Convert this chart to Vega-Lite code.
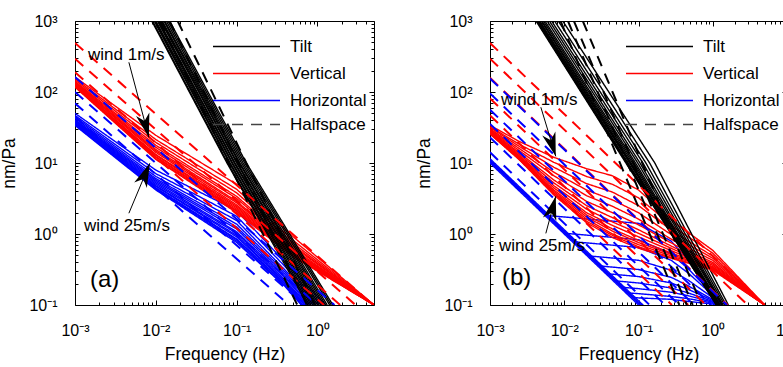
{
"$schema":"https://vega.github.io/schema/vega-lite/v6.json",
"padding":{"left":0,"top":12,"right":0,"bottom":0},
"config":{"font":"Liberation Sans","view":{"stroke":"#000","strokeWidth":1},
"axis":{"domain":false,"grid":false,"tickColor":"#000","labelColor":"#000","titleColor":"#000","labelFont":"Liberation Sans","titleFont":"Liberation Sans","titleFontWeight":"normal","labelFlush":false,"labelOverlap":false,"tickWidth":1}},
"datasets":{
"a":[
{"id":"Ha0","c":"Horizontal","m":"Coupled","f":0.001,"v":33.88},{"id":"Ha0","c":"Horizontal","m":"Coupled","f":0.01,"v":4.169},{"id":"Ha0","c":"Horizontal","m":"Coupled","f":0.1,"v":0.7586},{"id":"Ha0","c":"Horizontal","m":"Coupled","f":0.3981,"v":0.182},{"id":"Ha0","c":"Horizontal","m":"Coupled","f":0.631,"v":0.1},
{"id":"Ha1","c":"Horizontal","m":"Coupled","f":0.001,"v":34.67},{"id":"Ha1","c":"Horizontal","m":"Coupled","f":0.01,"v":4.266},{"id":"Ha1","c":"Horizontal","m":"Coupled","f":0.1,"v":0.7943},{"id":"Ha1","c":"Horizontal","m":"Coupled","f":0.3981,"v":0.1862},{"id":"Ha1","c":"Horizontal","m":"Coupled","f":0.6457,"v":0.1},
{"id":"Ha2","c":"Horizontal","m":"Coupled","f":0.001,"v":34.67},{"id":"Ha2","c":"Horizontal","m":"Coupled","f":0.01,"v":4.365},{"id":"Ha2","c":"Horizontal","m":"Coupled","f":0.1,"v":0.8318},{"id":"Ha2","c":"Horizontal","m":"Coupled","f":0.3981,"v":0.195},{"id":"Ha2","c":"Horizontal","m":"Coupled","f":0.6607,"v":0.1},
{"id":"Ha3","c":"Horizontal","m":"Coupled","f":0.001,"v":35.48},{"id":"Ha3","c":"Horizontal","m":"Coupled","f":0.01,"v":4.467},{"id":"Ha3","c":"Horizontal","m":"Coupled","f":0.1,"v":0.8511},{"id":"Ha3","c":"Horizontal","m":"Coupled","f":0.3981,"v":0.1995},{"id":"Ha3","c":"Horizontal","m":"Coupled","f":0.6918,"v":0.1},
{"id":"Ha4","c":"Horizontal","m":"Coupled","f":0.001,"v":36.31},{"id":"Ha4","c":"Horizontal","m":"Coupled","f":0.01,"v":4.677},{"id":"Ha4","c":"Horizontal","m":"Coupled","f":0.1,"v":0.912},{"id":"Ha4","c":"Horizontal","m":"Coupled","f":0.3981,"v":0.2089},{"id":"Ha4","c":"Horizontal","m":"Coupled","f":0.7079,"v":0.1},
{"id":"Ha5","c":"Horizontal","m":"Coupled","f":0.001,"v":37.15},{"id":"Ha5","c":"Horizontal","m":"Coupled","f":0.01,"v":4.786},{"id":"Ha5","c":"Horizontal","m":"Coupled","f":0.1,"v":0.955},{"id":"Ha5","c":"Horizontal","m":"Coupled","f":0.3981,"v":0.2138},{"id":"Ha5","c":"Horizontal","m":"Coupled","f":0.7413,"v":0.1},
{"id":"Ha6","c":"Horizontal","m":"Coupled","f":0.001,"v":38.02},{"id":"Ha6","c":"Horizontal","m":"Coupled","f":0.01,"v":5.012},{"id":"Ha6","c":"Horizontal","m":"Coupled","f":0.1,"v":1.023},{"id":"Ha6","c":"Horizontal","m":"Coupled","f":0.3981,"v":0.2239},{"id":"Ha6","c":"Horizontal","m":"Coupled","f":0.7586,"v":0.1},
{"id":"Ha7","c":"Horizontal","m":"Coupled","f":0.001,"v":38.9},{"id":"Ha7","c":"Horizontal","m":"Coupled","f":0.01,"v":5.248},{"id":"Ha7","c":"Horizontal","m":"Coupled","f":0.1,"v":1.072},{"id":"Ha7","c":"Horizontal","m":"Coupled","f":0.3981,"v":0.2399},{"id":"Ha7","c":"Horizontal","m":"Coupled","f":0.7943,"v":0.1},
{"id":"Ha8","c":"Horizontal","m":"Coupled","f":0.001,"v":39.81},{"id":"Ha8","c":"Horizontal","m":"Coupled","f":0.01,"v":5.495},{"id":"Ha8","c":"Horizontal","m":"Coupled","f":0.1,"v":1.175},{"id":"Ha8","c":"Horizontal","m":"Coupled","f":0.3981,"v":0.2512},{"id":"Ha8","c":"Horizontal","m":"Coupled","f":0.8318,"v":0.1},
{"id":"Ha9","c":"Horizontal","m":"Coupled","f":0.001,"v":40.74},{"id":"Ha9","c":"Horizontal","m":"Coupled","f":0.01,"v":5.754},{"id":"Ha9","c":"Horizontal","m":"Coupled","f":0.1,"v":1.259},{"id":"Ha9","c":"Horizontal","m":"Coupled","f":0.3981,"v":0.2692},{"id":"Ha9","c":"Horizontal","m":"Coupled","f":0.8913,"v":0.1},
{"id":"Ha10","c":"Horizontal","m":"Coupled","f":0.001,"v":42.66},{"id":"Ha10","c":"Horizontal","m":"Coupled","f":0.01,"v":6.026},{"id":"Ha10","c":"Horizontal","m":"Coupled","f":0.1,"v":1.38},{"id":"Ha10","c":"Horizontal","m":"Coupled","f":0.3981,"v":0.2884},{"id":"Ha10","c":"Horizontal","m":"Coupled","f":0.9333,"v":0.1},
{"id":"Ha11","c":"Horizontal","m":"Coupled","f":0.001,"v":44.67},{"id":"Ha11","c":"Horizontal","m":"Coupled","f":0.01,"v":6.457},{"id":"Ha11","c":"Horizontal","m":"Coupled","f":0.1,"v":1.549},{"id":"Ha11","c":"Horizontal","m":"Coupled","f":0.3981,"v":0.309},{"id":"Ha11","c":"Horizontal","m":"Coupled","f":1.023,"v":0.1},
{"id":"Ha12","c":"Horizontal","m":"Coupled","f":0.001,"v":46.77},{"id":"Ha12","c":"Horizontal","m":"Coupled","f":0.01,"v":7.079},{"id":"Ha12","c":"Horizontal","m":"Coupled","f":0.1,"v":1.778},{"id":"Ha12","c":"Horizontal","m":"Coupled","f":0.3981,"v":0.3467},{"id":"Ha12","c":"Horizontal","m":"Coupled","f":1.122,"v":0.1},
{"id":"Ha13","c":"Horizontal","m":"Coupled","f":0.001,"v":50.12},{"id":"Ha13","c":"Horizontal","m":"Coupled","f":0.01,"v":7.943},{"id":"Ha13","c":"Horizontal","m":"Coupled","f":0.1,"v":2.138},{"id":"Ha13","c":"Horizontal","m":"Coupled","f":0.3981,"v":0.3981},{"id":"Ha13","c":"Horizontal","m":"Coupled","f":1.259,"v":0.1},
{"id":"Va0","c":"Vertical","m":"Coupled","f":0.001,"v":117.5},{"id":"Va0","c":"Vertical","m":"Coupled","f":0.01,"v":11.22},{"id":"Va0","c":"Vertical","m":"Coupled","f":0.1,"v":1.995},{"id":"Va0","c":"Vertical","m":"Coupled","f":0.5012,"v":0.4786},{"id":"Va0","c":"Vertical","m":"Coupled","f":5.012,"v":0.1},
{"id":"Va1","c":"Vertical","m":"Coupled","f":0.001,"v":120.2},{"id":"Va1","c":"Vertical","m":"Coupled","f":0.01,"v":11.48},{"id":"Va1","c":"Vertical","m":"Coupled","f":0.1,"v":2.089},{"id":"Va1","c":"Vertical","m":"Coupled","f":0.5012,"v":0.4898},{"id":"Va1","c":"Vertical","m":"Coupled","f":5.012,"v":0.1},
{"id":"Va2","c":"Vertical","m":"Coupled","f":0.001,"v":120.2},{"id":"Va2","c":"Vertical","m":"Coupled","f":0.01,"v":12.02},{"id":"Va2","c":"Vertical","m":"Coupled","f":0.1,"v":2.138},{"id":"Va2","c":"Vertical","m":"Coupled","f":0.5012,"v":0.5012},{"id":"Va2","c":"Vertical","m":"Coupled","f":5.012,"v":0.1},
{"id":"Va3","c":"Vertical","m":"Coupled","f":0.001,"v":123.0},{"id":"Va3","c":"Vertical","m":"Coupled","f":0.01,"v":12.3},{"id":"Va3","c":"Vertical","m":"Coupled","f":0.1,"v":2.239},{"id":"Va3","c":"Vertical","m":"Coupled","f":0.5012,"v":0.5129},{"id":"Va3","c":"Vertical","m":"Coupled","f":5.012,"v":0.1},
{"id":"Va4","c":"Vertical","m":"Coupled","f":0.001,"v":123.0},{"id":"Va4","c":"Vertical","m":"Coupled","f":0.01,"v":12.88},{"id":"Va4","c":"Vertical","m":"Coupled","f":0.1,"v":2.344},{"id":"Va4","c":"Vertical","m":"Coupled","f":0.5012,"v":0.537},{"id":"Va4","c":"Vertical","m":"Coupled","f":5.012,"v":0.1},
{"id":"Va5","c":"Vertical","m":"Coupled","f":0.001,"v":125.9},{"id":"Va5","c":"Vertical","m":"Coupled","f":0.01,"v":13.18},{"id":"Va5","c":"Vertical","m":"Coupled","f":0.1,"v":2.455},{"id":"Va5","c":"Vertical","m":"Coupled","f":0.5012,"v":0.5495},{"id":"Va5","c":"Vertical","m":"Coupled","f":5.012,"v":0.1},
{"id":"Va6","c":"Vertical","m":"Coupled","f":0.001,"v":128.8},{"id":"Va6","c":"Vertical","m":"Coupled","f":0.01,"v":14.13},{"id":"Va6","c":"Vertical","m":"Coupled","f":0.1,"v":2.57},{"id":"Va6","c":"Vertical","m":"Coupled","f":0.5012,"v":0.5754},{"id":"Va6","c":"Vertical","m":"Coupled","f":5.012,"v":0.1},
{"id":"Va7","c":"Vertical","m":"Coupled","f":0.001,"v":131.8},{"id":"Va7","c":"Vertical","m":"Coupled","f":0.01,"v":14.79},{"id":"Va7","c":"Vertical","m":"Coupled","f":0.1,"v":2.754},{"id":"Va7","c":"Vertical","m":"Coupled","f":0.5012,"v":0.5888},{"id":"Va7","c":"Vertical","m":"Coupled","f":5.012,"v":0.1},
{"id":"Va8","c":"Vertical","m":"Coupled","f":0.001,"v":134.9},{"id":"Va8","c":"Vertical","m":"Coupled","f":0.01,"v":15.49},{"id":"Va8","c":"Vertical","m":"Coupled","f":0.1,"v":2.884},{"id":"Va8","c":"Vertical","m":"Coupled","f":0.5012,"v":0.6166},{"id":"Va8","c":"Vertical","m":"Coupled","f":5.012,"v":0.1},
{"id":"Va9","c":"Vertical","m":"Coupled","f":0.001,"v":138.0},{"id":"Va9","c":"Vertical","m":"Coupled","f":0.01,"v":16.6},{"id":"Va9","c":"Vertical","m":"Coupled","f":0.1,"v":3.162},{"id":"Va9","c":"Vertical","m":"Coupled","f":0.5012,"v":0.6607},{"id":"Va9","c":"Vertical","m":"Coupled","f":5.012,"v":0.1},
{"id":"Va10","c":"Vertical","m":"Coupled","f":0.001,"v":141.3},{"id":"Va10","c":"Vertical","m":"Coupled","f":0.01,"v":17.78},{"id":"Va10","c":"Vertical","m":"Coupled","f":0.1,"v":3.388},{"id":"Va10","c":"Vertical","m":"Coupled","f":0.5012,"v":0.6918},{"id":"Va10","c":"Vertical","m":"Coupled","f":5.012,"v":0.1},
{"id":"Va11","c":"Vertical","m":"Coupled","f":0.001,"v":147.9},{"id":"Va11","c":"Vertical","m":"Coupled","f":0.01,"v":19.5},{"id":"Va11","c":"Vertical","m":"Coupled","f":0.1,"v":3.802},{"id":"Va11","c":"Vertical","m":"Coupled","f":0.5012,"v":0.7413},{"id":"Va11","c":"Vertical","m":"Coupled","f":5.012,"v":0.1},
{"id":"Va12","c":"Vertical","m":"Coupled","f":0.001,"v":154.9},{"id":"Va12","c":"Vertical","m":"Coupled","f":0.01,"v":21.38},{"id":"Va12","c":"Vertical","m":"Coupled","f":0.1,"v":4.266},{"id":"Va12","c":"Vertical","m":"Coupled","f":0.5012,"v":0.8128},{"id":"Va12","c":"Vertical","m":"Coupled","f":5.012,"v":0.1},
{"id":"Va13","c":"Vertical","m":"Coupled","f":0.001,"v":162.2},{"id":"Va13","c":"Vertical","m":"Coupled","f":0.01,"v":24.55},{"id":"Va13","c":"Vertical","m":"Coupled","f":0.1,"v":5.012},{"id":"Va13","c":"Vertical","m":"Coupled","f":0.5012,"v":0.912},{"id":"Va13","c":"Vertical","m":"Coupled","f":5.012,"v":0.1},
{"id":"Ta0","c":"Tilt","m":"Coupled","f":0.008913,"v":1000},{"id":"Ta0","c":"Tilt","m":"Coupled","f":0.07586,"v":10},{"id":"Ta0","c":"Tilt","m":"Coupled","f":0.7586,"v":0.1},
{"id":"Ta1","c":"Tilt","m":"Coupled","f":0.00912,"v":1000},{"id":"Ta1","c":"Tilt","m":"Coupled","f":0.07762,"v":10},{"id":"Ta1","c":"Tilt","m":"Coupled","f":0.7943,"v":0.1},
{"id":"Ta2","c":"Tilt","m":"Coupled","f":0.00955,"v":1000},{"id":"Ta2","c":"Tilt","m":"Coupled","f":0.08128,"v":10},{"id":"Ta2","c":"Tilt","m":"Coupled","f":0.8318,"v":0.1},
{"id":"Ta3","c":"Tilt","m":"Coupled","f":0.00977,"v":1000},{"id":"Ta3","c":"Tilt","m":"Coupled","f":0.08318,"v":10},{"id":"Ta3","c":"Tilt","m":"Coupled","f":0.871,"v":0.1},
{"id":"Ta4","c":"Tilt","m":"Coupled","f":0.01,"v":1000},{"id":"Ta4","c":"Tilt","m":"Coupled","f":0.0871,"v":10},{"id":"Ta4","c":"Tilt","m":"Coupled","f":0.912,"v":0.1},
{"id":"Ta5","c":"Tilt","m":"Coupled","f":0.01047,"v":1000},{"id":"Ta5","c":"Tilt","m":"Coupled","f":0.08913,"v":10},{"id":"Ta5","c":"Tilt","m":"Coupled","f":0.955,"v":0.1},
{"id":"Ta6","c":"Tilt","m":"Coupled","f":0.01072,"v":1000},{"id":"Ta6","c":"Tilt","m":"Coupled","f":0.09333,"v":10},{"id":"Ta6","c":"Tilt","m":"Coupled","f":1.0,"v":0.1},
{"id":"Ta7","c":"Tilt","m":"Coupled","f":0.01096,"v":1000},{"id":"Ta7","c":"Tilt","m":"Coupled","f":0.0955,"v":10},{"id":"Ta7","c":"Tilt","m":"Coupled","f":1.047,"v":0.1},
{"id":"Ta8","c":"Tilt","m":"Coupled","f":0.01148,"v":1000},{"id":"Ta8","c":"Tilt","m":"Coupled","f":0.1,"v":10},{"id":"Ta8","c":"Tilt","m":"Coupled","f":1.096,"v":0.1},
{"id":"Ta9","c":"Tilt","m":"Coupled","f":0.01175,"v":1000},{"id":"Ta9","c":"Tilt","m":"Coupled","f":0.1023,"v":10},{"id":"Ta9","c":"Tilt","m":"Coupled","f":1.148,"v":0.1},
{"id":"Ta10","c":"Tilt","m":"Coupled","f":0.01202,"v":1000},{"id":"Ta10","c":"Tilt","m":"Coupled","f":0.1072,"v":10},{"id":"Ta10","c":"Tilt","m":"Coupled","f":1.202,"v":0.1},
{"id":"Ta11","c":"Tilt","m":"Coupled","f":0.01259,"v":1000},{"id":"Ta11","c":"Tilt","m":"Coupled","f":0.1096,"v":10},{"id":"Ta11","c":"Tilt","m":"Coupled","f":1.259,"v":0.1},
{"id":"Ta12","c":"Tilt","m":"Coupled","f":0.01288,"v":1000},{"id":"Ta12","c":"Tilt","m":"Coupled","f":0.1148,"v":10},{"id":"Ta12","c":"Tilt","m":"Coupled","f":1.318,"v":0.1},
{"id":"Ta13","c":"Tilt","m":"Coupled","f":0.01349,"v":1000},{"id":"Ta13","c":"Tilt","m":"Coupled","f":0.1202,"v":10},{"id":"Ta13","c":"Tilt","m":"Coupled","f":1.413,"v":0.1},
{"id":"Ta14","c":"Tilt","m":"Coupled","f":0.01413,"v":1000},{"id":"Ta14","c":"Tilt","m":"Coupled","f":0.1259,"v":10},{"id":"Ta14","c":"Tilt","m":"Coupled","f":1.479,"v":0.1},
{"id":"Ta15","c":"Tilt","m":"Coupled","f":0.01479,"v":1000},{"id":"Ta15","c":"Tilt","m":"Coupled","f":0.1318,"v":10},{"id":"Ta15","c":"Tilt","m":"Coupled","f":1.549,"v":0.1},
{"id":"VHa0","c":"Vertical","m":"Halfspace","f":0.001,"v":489.8},{"id":"VHa0","c":"Vertical","m":"Halfspace","f":4.898,"v":0.1},
{"id":"VHa1","c":"Vertical","m":"Halfspace","f":0.001,"v":295.1},{"id":"VHa1","c":"Vertical","m":"Halfspace","f":2.951,"v":0.1},
{"id":"VHa2","c":"Vertical","m":"Halfspace","f":0.001,"v":190.5},{"id":"VHa2","c":"Vertical","m":"Halfspace","f":1.905,"v":0.1},
{"id":"VHa3","c":"Vertical","m":"Halfspace","f":0.001,"v":120.2},{"id":"VHa3","c":"Vertical","m":"Halfspace","f":1.202,"v":0.1},
{"id":"HHa0","c":"Horizontal","m":"Halfspace","f":0.001,"v":162.2},{"id":"HHa0","c":"Horizontal","m":"Halfspace","f":1.622,"v":0.1},
{"id":"HHa1","c":"Horizontal","m":"Halfspace","f":0.001,"v":100},{"id":"HHa1","c":"Horizontal","m":"Halfspace","f":1.0,"v":0.1},
{"id":"HHa2","c":"Horizontal","m":"Halfspace","f":0.001,"v":69.18},{"id":"HHa2","c":"Horizontal","m":"Halfspace","f":0.6918,"v":0.1},
{"id":"HHa3","c":"Horizontal","m":"Halfspace","f":0.001,"v":44.67},{"id":"HHa3","c":"Horizontal","m":"Halfspace","f":0.4467,"v":0.1},
{"id":"THa0","c":"Tilt","m":"Halfspace","f":0.01122,"v":1000},{"id":"THa0","c":"Tilt","m":"Halfspace","f":0.5623,"v":0.1},
{"id":"THa1","c":"Tilt","m":"Halfspace","f":0.01479,"v":1000},{"id":"THa1","c":"Tilt","m":"Halfspace","f":0.7413,"v":0.1},
{"id":"THa2","c":"Tilt","m":"Halfspace","f":0.01862,"v":1000},{"id":"THa2","c":"Tilt","m":"Halfspace","f":0.9333,"v":0.1}
],
"b":[
{"id":"Hb0","c":"Horizontal","m":"Coupled","f":0.001,"v":10.0},{"id":"Hb0","c":"Horizontal","m":"Coupled","f":0.1122,"v":0.08913},
{"id":"Hb1","c":"Horizontal","m":"Coupled","f":0.001,"v":10.47},{"id":"Hb1","c":"Horizontal","m":"Coupled","f":0.1175,"v":0.08913},
{"id":"Hb2","c":"Horizontal","m":"Coupled","f":0.001,"v":10.96},{"id":"Hb2","c":"Horizontal","m":"Coupled","f":0.123,"v":0.08913},
{"id":"Hb3","c":"Horizontal","m":"Coupled","f":0.001,"v":11.48},{"id":"Hb3","c":"Horizontal","m":"Coupled","f":0.1288,"v":0.08913},
{"id":"Hb4","c":"Horizontal","m":"Coupled","f":0.001,"v":10.72},{"id":"Hb4","c":"Horizontal","m":"Coupled","f":0.005888,"v":1.82},{"id":"Hb4","c":"Horizontal","m":"Coupled","f":0.1,"v":1.413},{"id":"Hb4","c":"Horizontal","m":"Coupled","f":0.2754,"v":0.7943},{"id":"Hb4","c":"Horizontal","m":"Coupled","f":0.4677,"v":0.4266},{"id":"Hb4","c":"Horizontal","m":"Coupled","f":1.072,"v":0.1413},{"id":"Hb4","c":"Horizontal","m":"Coupled","f":1.318,"v":0.1},
{"id":"Hb5","c":"Horizontal","m":"Coupled","f":0.001,"v":10.72},{"id":"Hb5","c":"Horizontal","m":"Coupled","f":0.01047,"v":1.023},{"id":"Hb5","c":"Horizontal","m":"Coupled","f":0.1,"v":0.8318},{"id":"Hb5","c":"Horizontal","m":"Coupled","f":0.2754,"v":0.5248},{"id":"Hb5","c":"Horizontal","m":"Coupled","f":0.4677,"v":0.3236},{"id":"Hb5","c":"Horizontal","m":"Coupled","f":1.072,"v":0.1318},{"id":"Hb5","c":"Horizontal","m":"Coupled","f":1.318,"v":0.1},
{"id":"Hb6","c":"Horizontal","m":"Coupled","f":0.001,"v":10.72},{"id":"Hb6","c":"Horizontal","m":"Coupled","f":0.0138,"v":0.7762},{"id":"Hb6","c":"Horizontal","m":"Coupled","f":0.1,"v":0.6457},{"id":"Hb6","c":"Horizontal","m":"Coupled","f":0.2754,"v":0.4266},{"id":"Hb6","c":"Horizontal","m":"Coupled","f":0.4677,"v":0.2818},{"id":"Hb6","c":"Horizontal","m":"Coupled","f":1.072,"v":0.1288},{"id":"Hb6","c":"Horizontal","m":"Coupled","f":1.318,"v":0.1},
{"id":"Hb7","c":"Horizontal","m":"Coupled","f":0.001,"v":10.72},{"id":"Hb7","c":"Horizontal","m":"Coupled","f":0.02188,"v":0.4898},{"id":"Hb7","c":"Horizontal","m":"Coupled","f":0.1,"v":0.4266},{"id":"Hb7","c":"Horizontal","m":"Coupled","f":0.2754,"v":0.309},{"id":"Hb7","c":"Horizontal","m":"Coupled","f":0.4677,"v":0.2239},{"id":"Hb7","c":"Horizontal","m":"Coupled","f":1.072,"v":0.1202},{"id":"Hb7","c":"Horizontal","m":"Coupled","f":1.318,"v":0.1},
{"id":"Hb8","c":"Horizontal","m":"Coupled","f":0.001,"v":10.72},{"id":"Hb8","c":"Horizontal","m":"Coupled","f":0.0302,"v":0.3548},{"id":"Hb8","c":"Horizontal","m":"Coupled","f":0.1,"v":0.3162},{"id":"Hb8","c":"Horizontal","m":"Coupled","f":0.2754,"v":0.2455},{"id":"Hb8","c":"Horizontal","m":"Coupled","f":0.4677,"v":0.1862},{"id":"Hb8","c":"Horizontal","m":"Coupled","f":1.072,"v":0.1148},{"id":"Hb8","c":"Horizontal","m":"Coupled","f":1.318,"v":0.1},
{"id":"Hb9","c":"Horizontal","m":"Coupled","f":0.001,"v":10.72},{"id":"Hb9","c":"Horizontal","m":"Coupled","f":0.0389,"v":0.2754},{"id":"Hb9","c":"Horizontal","m":"Coupled","f":0.1,"v":0.2512},{"id":"Hb9","c":"Horizontal","m":"Coupled","f":0.2754,"v":0.2042},{"id":"Hb9","c":"Horizontal","m":"Coupled","f":0.4677,"v":0.166},{"id":"Hb9","c":"Horizontal","m":"Coupled","f":1.072,"v":0.1122},{"id":"Hb9","c":"Horizontal","m":"Coupled","f":1.318,"v":0.1},
{"id":"Hb10","c":"Horizontal","m":"Coupled","f":0.001,"v":10.72},{"id":"Hb10","c":"Horizontal","m":"Coupled","f":0.04898,"v":0.2188},{"id":"Hb10","c":"Horizontal","m":"Coupled","f":0.1,"v":0.2042},{"id":"Hb10","c":"Horizontal","m":"Coupled","f":0.2754,"v":0.1738},{"id":"Hb10","c":"Horizontal","m":"Coupled","f":0.4677,"v":0.1479},{"id":"Hb10","c":"Horizontal","m":"Coupled","f":1.072,"v":0.1096},{"id":"Hb10","c":"Horizontal","m":"Coupled","f":1.318,"v":0.1},
{"id":"Hb11","c":"Horizontal","m":"Coupled","f":0.001,"v":10.72},{"id":"Hb11","c":"Horizontal","m":"Coupled","f":0.06026,"v":0.1778},{"id":"Hb11","c":"Horizontal","m":"Coupled","f":0.1,"v":0.1698},{"id":"Hb11","c":"Horizontal","m":"Coupled","f":0.2754,"v":0.1514},{"id":"Hb11","c":"Horizontal","m":"Coupled","f":0.4677,"v":0.1349},{"id":"Hb11","c":"Horizontal","m":"Coupled","f":1.072,"v":0.1072},{"id":"Hb11","c":"Horizontal","m":"Coupled","f":1.318,"v":0.1},
{"id":"Hb12","c":"Horizontal","m":"Coupled","f":0.001,"v":10.72},{"id":"Hb12","c":"Horizontal","m":"Coupled","f":0.07244,"v":0.1479},{"id":"Hb12","c":"Horizontal","m":"Coupled","f":0.1,"v":0.1445},{"id":"Hb12","c":"Horizontal","m":"Coupled","f":0.2754,"v":0.1318},{"id":"Hb12","c":"Horizontal","m":"Coupled","f":0.4677,"v":0.123},{"id":"Hb12","c":"Horizontal","m":"Coupled","f":1.072,"v":0.1047},{"id":"Hb12","c":"Horizontal","m":"Coupled","f":1.318,"v":0.1},
{"id":"Hb13","c":"Horizontal","m":"Coupled","f":0.001,"v":10.72},{"id":"Hb13","c":"Horizontal","m":"Coupled","f":0.08318,"v":0.1288},{"id":"Hb13","c":"Horizontal","m":"Coupled","f":0.1,"v":0.1259},{"id":"Hb13","c":"Horizontal","m":"Coupled","f":0.2754,"v":0.1202},{"id":"Hb13","c":"Horizontal","m":"Coupled","f":0.4677,"v":0.1122},{"id":"Hb13","c":"Horizontal","m":"Coupled","f":1.072,"v":0.1023},{"id":"Hb13","c":"Horizontal","m":"Coupled","f":1.318,"v":0.1},
{"id":"Vb0","c":"Vertical","m":"Coupled","f":0.001,"v":25.7},{"id":"Vb0","c":"Vertical","m":"Coupled","f":0.002512,"v":10.96},{"id":"Vb0","c":"Vertical","m":"Coupled","f":0.007244,"v":3.548},{"id":"Vb0","c":"Vertical","m":"Coupled","f":0.01995,"v":1.445},{"id":"Vb0","c":"Vertical","m":"Coupled","f":0.04467,"v":0.8913},{"id":"Vb0","c":"Vertical","m":"Coupled","f":0.1,"v":0.631},{"id":"Vb0","c":"Vertical","m":"Coupled","f":0.3162,"v":0.4365},{"id":"Vb0","c":"Vertical","m":"Coupled","f":1,"v":0.309},{"id":"Vb0","c":"Vertical","m":"Coupled","f":5.012,"v":0.1},
{"id":"Vb1","c":"Vertical","m":"Coupled","f":0.001,"v":25.7},{"id":"Vb1","c":"Vertical","m":"Coupled","f":0.002512,"v":11.22},{"id":"Vb1","c":"Vertical","m":"Coupled","f":0.007244,"v":3.715},{"id":"Vb1","c":"Vertical","m":"Coupled","f":0.01995,"v":1.514},{"id":"Vb1","c":"Vertical","m":"Coupled","f":0.04467,"v":0.955},{"id":"Vb1","c":"Vertical","m":"Coupled","f":0.1,"v":0.6607},{"id":"Vb1","c":"Vertical","m":"Coupled","f":0.3162,"v":0.4467},{"id":"Vb1","c":"Vertical","m":"Coupled","f":1,"v":0.3162},{"id":"Vb1","c":"Vertical","m":"Coupled","f":5.012,"v":0.1},
{"id":"Vb2","c":"Vertical","m":"Coupled","f":0.001,"v":26.3},{"id":"Vb2","c":"Vertical","m":"Coupled","f":0.002512,"v":11.48},{"id":"Vb2","c":"Vertical","m":"Coupled","f":0.007244,"v":3.802},{"id":"Vb2","c":"Vertical","m":"Coupled","f":0.01995,"v":1.622},{"id":"Vb2","c":"Vertical","m":"Coupled","f":0.04467,"v":1.0},{"id":"Vb2","c":"Vertical","m":"Coupled","f":0.1,"v":0.7079},{"id":"Vb2","c":"Vertical","m":"Coupled","f":0.3162,"v":0.4677},{"id":"Vb2","c":"Vertical","m":"Coupled","f":1,"v":0.3236},{"id":"Vb2","c":"Vertical","m":"Coupled","f":5.012,"v":0.1},
{"id":"Vb3","c":"Vertical","m":"Coupled","f":0.001,"v":26.3},{"id":"Vb3","c":"Vertical","m":"Coupled","f":0.002512,"v":11.75},{"id":"Vb3","c":"Vertical","m":"Coupled","f":0.007244,"v":3.981},{"id":"Vb3","c":"Vertical","m":"Coupled","f":0.01995,"v":1.738},{"id":"Vb3","c":"Vertical","m":"Coupled","f":0.04467,"v":1.096},{"id":"Vb3","c":"Vertical","m":"Coupled","f":0.1,"v":0.7586},{"id":"Vb3","c":"Vertical","m":"Coupled","f":0.3162,"v":0.4898},{"id":"Vb3","c":"Vertical","m":"Coupled","f":1,"v":0.3311},{"id":"Vb3","c":"Vertical","m":"Coupled","f":5.012,"v":0.1},
{"id":"Vb4","c":"Vertical","m":"Coupled","f":0.001,"v":26.92},{"id":"Vb4","c":"Vertical","m":"Coupled","f":0.002512,"v":12.02},{"id":"Vb4","c":"Vertical","m":"Coupled","f":0.007244,"v":4.169},{"id":"Vb4","c":"Vertical","m":"Coupled","f":0.01995,"v":1.862},{"id":"Vb4","c":"Vertical","m":"Coupled","f":0.04467,"v":1.175},{"id":"Vb4","c":"Vertical","m":"Coupled","f":0.1,"v":0.8128},{"id":"Vb4","c":"Vertical","m":"Coupled","f":0.3162,"v":0.5129},{"id":"Vb4","c":"Vertical","m":"Coupled","f":1,"v":0.3388},{"id":"Vb4","c":"Vertical","m":"Coupled","f":5.012,"v":0.1},
{"id":"Vb5","c":"Vertical","m":"Coupled","f":0.001,"v":26.92},{"id":"Vb5","c":"Vertical","m":"Coupled","f":0.002512,"v":12.3},{"id":"Vb5","c":"Vertical","m":"Coupled","f":0.007244,"v":4.467},{"id":"Vb5","c":"Vertical","m":"Coupled","f":0.01995,"v":1.995},{"id":"Vb5","c":"Vertical","m":"Coupled","f":0.04467,"v":1.318},{"id":"Vb5","c":"Vertical","m":"Coupled","f":0.1,"v":0.912},{"id":"Vb5","c":"Vertical","m":"Coupled","f":0.3162,"v":0.5495},{"id":"Vb5","c":"Vertical","m":"Coupled","f":1,"v":0.3467},{"id":"Vb5","c":"Vertical","m":"Coupled","f":5.012,"v":0.1},
{"id":"Vb6","c":"Vertical","m":"Coupled","f":0.001,"v":27.54},{"id":"Vb6","c":"Vertical","m":"Coupled","f":0.002512,"v":12.59},{"id":"Vb6","c":"Vertical","m":"Coupled","f":0.007244,"v":4.786},{"id":"Vb6","c":"Vertical","m":"Coupled","f":0.01995,"v":2.239},{"id":"Vb6","c":"Vertical","m":"Coupled","f":0.04467,"v":1.479},{"id":"Vb6","c":"Vertical","m":"Coupled","f":0.1,"v":1.023},{"id":"Vb6","c":"Vertical","m":"Coupled","f":0.3162,"v":0.5888},{"id":"Vb6","c":"Vertical","m":"Coupled","f":1,"v":0.3631},{"id":"Vb6","c":"Vertical","m":"Coupled","f":5.012,"v":0.1},
{"id":"Vb7","c":"Vertical","m":"Coupled","f":0.001,"v":28.18},{"id":"Vb7","c":"Vertical","m":"Coupled","f":0.002512,"v":13.18},{"id":"Vb7","c":"Vertical","m":"Coupled","f":0.007244,"v":5.248},{"id":"Vb7","c":"Vertical","m":"Coupled","f":0.01995,"v":2.512},{"id":"Vb7","c":"Vertical","m":"Coupled","f":0.04467,"v":1.698},{"id":"Vb7","c":"Vertical","m":"Coupled","f":0.1,"v":1.148},{"id":"Vb7","c":"Vertical","m":"Coupled","f":0.3162,"v":0.631},{"id":"Vb7","c":"Vertical","m":"Coupled","f":1,"v":0.3802},{"id":"Vb7","c":"Vertical","m":"Coupled","f":5.012,"v":0.1},
{"id":"Vb8","c":"Vertical","m":"Coupled","f":0.001,"v":28.84},{"id":"Vb8","c":"Vertical","m":"Coupled","f":0.002512,"v":13.8},{"id":"Vb8","c":"Vertical","m":"Coupled","f":0.007244,"v":5.754},{"id":"Vb8","c":"Vertical","m":"Coupled","f":0.01995,"v":2.884},{"id":"Vb8","c":"Vertical","m":"Coupled","f":0.04467,"v":1.995},{"id":"Vb8","c":"Vertical","m":"Coupled","f":0.1,"v":1.349},{"id":"Vb8","c":"Vertical","m":"Coupled","f":0.3162,"v":0.6918},{"id":"Vb8","c":"Vertical","m":"Coupled","f":1,"v":0.3981},{"id":"Vb8","c":"Vertical","m":"Coupled","f":5.012,"v":0.1},
{"id":"Vb9","c":"Vertical","m":"Coupled","f":0.001,"v":29.51},{"id":"Vb9","c":"Vertical","m":"Coupled","f":0.002512,"v":14.79},{"id":"Vb9","c":"Vertical","m":"Coupled","f":0.007244,"v":6.607},{"id":"Vb9","c":"Vertical","m":"Coupled","f":0.01995,"v":3.467},{"id":"Vb9","c":"Vertical","m":"Coupled","f":0.04467,"v":2.455},{"id":"Vb9","c":"Vertical","m":"Coupled","f":0.1,"v":1.622},{"id":"Vb9","c":"Vertical","m":"Coupled","f":0.3162,"v":0.7762},{"id":"Vb9","c":"Vertical","m":"Coupled","f":1,"v":0.4266},{"id":"Vb9","c":"Vertical","m":"Coupled","f":5.012,"v":0.1},
{"id":"Vb10","c":"Vertical","m":"Coupled","f":0.001,"v":30.2},{"id":"Vb10","c":"Vertical","m":"Coupled","f":0.002512,"v":15.85},{"id":"Vb10","c":"Vertical","m":"Coupled","f":0.007244,"v":7.413},{"id":"Vb10","c":"Vertical","m":"Coupled","f":0.01995,"v":4.169},{"id":"Vb10","c":"Vertical","m":"Coupled","f":0.04467,"v":3.02},{"id":"Vb10","c":"Vertical","m":"Coupled","f":0.1,"v":1.995},{"id":"Vb10","c":"Vertical","m":"Coupled","f":0.3162,"v":0.8913},{"id":"Vb10","c":"Vertical","m":"Coupled","f":1,"v":0.4571},{"id":"Vb10","c":"Vertical","m":"Coupled","f":5.012,"v":0.1},
{"id":"Vb11","c":"Vertical","m":"Coupled","f":0.001,"v":31.62},{"id":"Vb11","c":"Vertical","m":"Coupled","f":0.002512,"v":16.98},{"id":"Vb11","c":"Vertical","m":"Coupled","f":0.007244,"v":8.71},{"id":"Vb11","c":"Vertical","m":"Coupled","f":0.01995,"v":5.129},{"id":"Vb11","c":"Vertical","m":"Coupled","f":0.04467,"v":3.89},{"id":"Vb11","c":"Vertical","m":"Coupled","f":0.1,"v":2.512},{"id":"Vb11","c":"Vertical","m":"Coupled","f":0.3162,"v":1.023},{"id":"Vb11","c":"Vertical","m":"Coupled","f":1,"v":0.4898},{"id":"Vb11","c":"Vertical","m":"Coupled","f":5.012,"v":0.1},
{"id":"Vb12","c":"Vertical","m":"Coupled","f":0.001,"v":32.36},{"id":"Vb12","c":"Vertical","m":"Coupled","f":0.002512,"v":18.2},{"id":"Vb12","c":"Vertical","m":"Coupled","f":0.007244,"v":10.23},{"id":"Vb12","c":"Vertical","m":"Coupled","f":0.01995,"v":6.457},{"id":"Vb12","c":"Vertical","m":"Coupled","f":0.04467,"v":5.012},{"id":"Vb12","c":"Vertical","m":"Coupled","f":0.1,"v":3.236},{"id":"Vb12","c":"Vertical","m":"Coupled","f":0.3162,"v":1.202},{"id":"Vb12","c":"Vertical","m":"Coupled","f":1,"v":0.537},{"id":"Vb12","c":"Vertical","m":"Coupled","f":5.012,"v":0.1},
{"id":"Vb13","c":"Vertical","m":"Coupled","f":0.001,"v":33.88},{"id":"Vb13","c":"Vertical","m":"Coupled","f":0.002512,"v":19.95},{"id":"Vb13","c":"Vertical","m":"Coupled","f":0.007244,"v":12.02},{"id":"Vb13","c":"Vertical","m":"Coupled","f":0.01995,"v":8.318},{"id":"Vb13","c":"Vertical","m":"Coupled","f":0.04467,"v":6.607},{"id":"Vb13","c":"Vertical","m":"Coupled","f":0.1,"v":4.169},{"id":"Vb13","c":"Vertical","m":"Coupled","f":0.3162,"v":1.413},{"id":"Vb13","c":"Vertical","m":"Coupled","f":1,"v":0.5888},{"id":"Vb13","c":"Vertical","m":"Coupled","f":5.012,"v":0.1},
{"id":"Tb0","c":"Tilt","m":"Coupled","f":0.004169,"v":1000},{"id":"Tb0","c":"Tilt","m":"Coupled","f":0.06761,"v":10},{"id":"Tb0","c":"Tilt","m":"Coupled","f":1.122,"v":0.1},
{"id":"Tb1","c":"Tilt","m":"Coupled","f":0.004266,"v":1000},{"id":"Tb1","c":"Tilt","m":"Coupled","f":0.06918,"v":10},{"id":"Tb1","c":"Tilt","m":"Coupled","f":1.122,"v":0.1},
{"id":"Tb2","c":"Tilt","m":"Coupled","f":0.004365,"v":1000},{"id":"Tb2","c":"Tilt","m":"Coupled","f":0.07079,"v":10},{"id":"Tb2","c":"Tilt","m":"Coupled","f":1.148,"v":0.1},
{"id":"Tb3","c":"Tilt","m":"Coupled","f":0.004467,"v":1000},{"id":"Tb3","c":"Tilt","m":"Coupled","f":0.07244,"v":10},{"id":"Tb3","c":"Tilt","m":"Coupled","f":1.148,"v":0.1},
{"id":"Tb4","c":"Tilt","m":"Coupled","f":0.004571,"v":1000},{"id":"Tb4","c":"Tilt","m":"Coupled","f":0.07586,"v":10},{"id":"Tb4","c":"Tilt","m":"Coupled","f":1.175,"v":0.1},
{"id":"Tb5","c":"Tilt","m":"Coupled","f":0.004677,"v":1000},{"id":"Tb5","c":"Tilt","m":"Coupled","f":0.07762,"v":10},{"id":"Tb5","c":"Tilt","m":"Coupled","f":1.175,"v":0.1},
{"id":"Tb6","c":"Tilt","m":"Coupled","f":0.004898,"v":1000},{"id":"Tb6","c":"Tilt","m":"Coupled","f":0.07943,"v":10},{"id":"Tb6","c":"Tilt","m":"Coupled","f":1.202,"v":0.1},
{"id":"Tb7","c":"Tilt","m":"Coupled","f":0.005012,"v":1000},{"id":"Tb7","c":"Tilt","m":"Coupled","f":0.08318,"v":10},{"id":"Tb7","c":"Tilt","m":"Coupled","f":1.23,"v":0.1},
{"id":"Tb8","c":"Tilt","m":"Coupled","f":0.005248,"v":1000},{"id":"Tb8","c":"Tilt","m":"Coupled","f":0.0871,"v":10},{"id":"Tb8","c":"Tilt","m":"Coupled","f":1.23,"v":0.1},
{"id":"Tb9","c":"Tilt","m":"Coupled","f":0.005495,"v":1000},{"id":"Tb9","c":"Tilt","m":"Coupled","f":0.0912,"v":10},{"id":"Tb9","c":"Tilt","m":"Coupled","f":1.259,"v":0.1},
{"id":"Tb10","c":"Tilt","m":"Coupled","f":0.005888,"v":1000},{"id":"Tb10","c":"Tilt","m":"Coupled","f":0.09772,"v":10},{"id":"Tb10","c":"Tilt","m":"Coupled","f":1.318,"v":0.1},
{"id":"Tb11","c":"Tilt","m":"Coupled","f":0.00631,"v":1000},{"id":"Tb11","c":"Tilt","m":"Coupled","f":0.1047,"v":10},{"id":"Tb11","c":"Tilt","m":"Coupled","f":1.349,"v":0.1},
{"id":"Tb12","c":"Tilt","m":"Coupled","f":0.006761,"v":1000},{"id":"Tb12","c":"Tilt","m":"Coupled","f":0.1148,"v":10},{"id":"Tb12","c":"Tilt","m":"Coupled","f":1.38,"v":0.1},
{"id":"Tb13","c":"Tilt","m":"Coupled","f":0.007413,"v":1000},{"id":"Tb13","c":"Tilt","m":"Coupled","f":0.1259,"v":10},{"id":"Tb13","c":"Tilt","m":"Coupled","f":1.445,"v":0.1},
{"id":"Tb14","c":"Tilt","m":"Coupled","f":0.008318,"v":1000},{"id":"Tb14","c":"Tilt","m":"Coupled","f":0.1413,"v":10},{"id":"Tb14","c":"Tilt","m":"Coupled","f":1.514,"v":0.1},
{"id":"Tb15","c":"Tilt","m":"Coupled","f":0.00955,"v":1000},{"id":"Tb15","c":"Tilt","m":"Coupled","f":0.166,"v":10},{"id":"Tb15","c":"Tilt","m":"Coupled","f":1.622,"v":0.1},
{"id":"VHb0","c":"Vertical","m":"Halfspace","f":0.001,"v":489.8},{"id":"VHb0","c":"Vertical","m":"Halfspace","f":4.898,"v":0.1},
{"id":"VHb1","c":"Vertical","m":"Halfspace","f":0.001,"v":295.1},{"id":"VHb1","c":"Vertical","m":"Halfspace","f":2.951,"v":0.1},
{"id":"VHb2","c":"Vertical","m":"Halfspace","f":0.001,"v":158.5},{"id":"VHb2","c":"Vertical","m":"Halfspace","f":1.585,"v":0.1},
{"id":"VHb3","c":"Vertical","m":"Halfspace","f":0.001,"v":81.28},{"id":"VHb3","c":"Vertical","m":"Halfspace","f":0.8128,"v":0.1},
{"id":"VHb4","c":"Vertical","m":"Halfspace","f":0.001,"v":46.77},{"id":"VHb4","c":"Vertical","m":"Halfspace","f":0.4677,"v":0.1},
{"id":"VHb5","c":"Vertical","m":"Halfspace","f":0.001,"v":28.18},{"id":"VHb5","c":"Vertical","m":"Halfspace","f":0.2818,"v":0.1},
{"id":"HHb0","c":"Horizontal","m":"Halfspace","f":0.001,"v":154.9},{"id":"HHb0","c":"Horizontal","m":"Halfspace","f":1.549,"v":0.1},
{"id":"HHb1","c":"Horizontal","m":"Halfspace","f":0.001,"v":95.5},{"id":"HHb1","c":"Horizontal","m":"Halfspace","f":0.955,"v":0.1},
{"id":"HHb2","c":"Horizontal","m":"Halfspace","f":0.001,"v":56.23},{"id":"HHb2","c":"Horizontal","m":"Halfspace","f":0.5623,"v":0.1},
{"id":"HHb3","c":"Horizontal","m":"Halfspace","f":0.001,"v":35.48},{"id":"HHb3","c":"Horizontal","m":"Halfspace","f":0.3548,"v":0.1},
{"id":"HHb4","c":"Horizontal","m":"Halfspace","f":0.001,"v":22.91},{"id":"HHb4","c":"Horizontal","m":"Halfspace","f":0.2291,"v":0.1},
{"id":"HHb5","c":"Horizontal","m":"Halfspace","f":0.001,"v":14.13},{"id":"HHb5","c":"Horizontal","m":"Halfspace","f":0.1413,"v":0.1},
{"id":"THb0","c":"Tilt","m":"Halfspace","f":0.008913,"v":1000},{"id":"THb0","c":"Tilt","m":"Halfspace","f":0.3548,"v":0.1},
{"id":"THb1","c":"Tilt","m":"Halfspace","f":0.01122,"v":1000},{"id":"THb1","c":"Tilt","m":"Halfspace","f":0.4467,"v":0.1},
{"id":"THb2","c":"Tilt","m":"Halfspace","f":0.01349,"v":1000},{"id":"THb2","c":"Tilt","m":"Halfspace","f":0.537,"v":0.1},
{"id":"THb3","c":"Tilt","m":"Halfspace","f":0.01778,"v":1000},{"id":"THb3","c":"Tilt","m":"Halfspace","f":0.7079,"v":0.1}
],
"ta":[{"t":"wind 1m/s","f":0.00145,"v":329},{"t":"wind 25m/s","f":0.00129,"v":1.28}],
"la":[{"t":"(a)","f":0.00153,"v":0.223}],
"arra":[{"dir":"down","f":0.00464,"v":262,"f2":0.0082,"v2":23.0},{"dir":"up","f":0.00464,"v":1.96,"f2":0.00843,"v2":9.9}],
"tb":[{"t":"wind 1m/s","f":0.00141,"v":76.4},{"t":"wind 25m/s","f":0.00132,"v":0.671}],
"lb":[{"t":"(b)","f":0.00145,"v":0.238}],
"arrb":[{"dir":"down","f":0.00484,"v":61,"f2":0.00769,"v2":12.4},{"dir":"up","f":0.00565,"v":1.02,"f2":0.00769,"v2":3.4}]
},
"spacing":40,
"resolve":{"scale":{"x":"independent","y":"independent","color":"independent","strokeDash":"independent"},"legend":{"color":"independent","strokeDash":"independent"}},
"hconcat":[
{"width":299,"height":284,
"resolve":{"axis":{"x":"independent","y":"independent"}},
"layer":[
{"data":{"name":"a"},"transform":[{"filter":"datum.m=='Coupled'"}],"mark":{"type":"line","clip":true,"strokeWidth":1.4},
"encoding":{
"x":{"field":"f","type":"quantitative","scale":{"type":"log","domain":[0.001,5],"nice":false},"axis":{"orient":"bottom","values":[0.001,0.01,0.1,1],"tickSize":-5,"labelPadding":22,"labelFontSize":16,"labelExpr":"'10' + (datum.value < 0.005 ? '⁻³' : datum.value < 0.05 ? '⁻²' : datum.value < 0.5 ? '⁻¹' : datum.value < 5 ? '⁰' : '¹')","title":"Frequency (Hz)","titleFontSize":17.5,"titlePadding":7}},
"y":{"field":"v","type":"quantitative","scale":{"type":"log","domain":[0.1,1000],"nice":false},"axis":{"orient":"left","values":[0.1,1,10,100,1000],"tickSize":-5,"labelPadding":23,"labelFontSize":16,"labelExpr":"'10' + (datum.value < 0.5 ? '⁻¹' : datum.value < 5 ? '⁰' : datum.value < 50 ? '¹' : datum.value < 500 ? '²' : '³')","title":"nm/Pa","titleFontSize":17.5,"titlePadding":10}},
"detail":{"field":"id","type":"nominal"},
"color":{"field":"c","type":"nominal","scale":{"domain":["Tilt","Vertical","Horizontal"],"range":["#000000","#ff0000","#0000ff"]},"legend":{"orient":"none","legendX":163,"legendY":17,"direction":"vertical","title":null,"symbolType":"M-6.7,0L6.7,0","symbolSize":100,"symbolStrokeWidth":1.5,"labelFontSize":17,"labelFont":"Liberation Sans","labelColor":"#000","labelOffset":35,"rowPadding":9,"padding":0}},
"strokeDash":{"field":"m","type":"nominal","scale":{"domain":["Coupled","Halfspace"],"range":[[1,0],[11,8]]},"legend":{"orient":"none","legendX":163,"legendY":95,"direction":"vertical","values":["Halfspace"],"title":null,"symbolType":"M-6.7,0L6.7,0","symbolSize":100,"symbolStrokeWidth":1.5,"symbolStrokeColor":"#444","labelFontSize":17,"labelFont":"Liberation Sans","labelColor":"#000","labelOffset":35,"padding":0}}
}},
{"data":{"name":"a"},"transform":[{"filter":"datum.m=='Halfspace'"}],"mark":{"type":"line","clip":true,"strokeWidth":2},
"encoding":{
"x":{"field":"f","type":"quantitative","scale":{"type":"log","domain":[0.001,5],"nice":false},"axis":{"orient":"bottom","values":[0.002,0.003,0.004,0.005,0.006,0.007,0.008,0.009,0.02,0.03,0.04,0.05,0.06,0.07,0.08,0.09,0.2,0.3,0.4,0.5,0.6,0.7,0.8,0.9,2,3,4],"tickSize":-3,"labels":false,"title":null}},
"y":{"field":"v","type":"quantitative","scale":{"type":"log","domain":[0.1,1000],"nice":false},"axis":{"orient":"left","values":[0.2,0.3,0.4,0.5,0.6,0.7,0.8,0.9,2,3,4,5,6,7,8,9,20,30,40,50,60,70,80,90,200,300,400,500,600,700,800,900],"tickSize":-3,"labels":false,"title":null}},
"detail":{"field":"id","type":"nominal"},
"color":{"field":"c","type":"nominal"},
"strokeDash":{"field":"m","type":"nominal"}
}},
{"data":{"name":"arra"},"mark":{"type":"rule","color":"#000","strokeWidth":1},
"encoding":{
"x":{"field":"f","type":"quantitative","scale":{"type":"log","domain":[0.001,5],"nice":false},"axis":{"orient":"top","values":[0.001,0.01,0.1,1],"tickSize":-5,"labels":false,"title":null}},
"y":{"field":"v","type":"quantitative","scale":{"type":"log","domain":[0.1,1000],"nice":false},"axis":{"orient":"right","values":[0.1,1,10,100,1000],"tickSize":-5,"labels":false,"title":null}},
"x2":{"field":"f2"},"y2":{"field":"v2"}}},
{"data":{"name":"arra"},"transform":[{"filter":"datum.dir=='down'"}],"mark":{"type":"point","shape":"M0,0L0.55,1.9L0,1.35L-0.55,1.9Z","filled":true,"color":"#000","opacity":1,"size":630,"angle":165},
"encoding":{
"x":{"field":"f2","type":"quantitative","scale":{"type":"log","domain":[0.001,5],"nice":false},"axis":{"orient":"top","values":[0.002,0.003,0.004,0.005,0.006,0.007,0.008,0.009,0.02,0.03,0.04,0.05,0.06,0.07,0.08,0.09,0.2,0.3,0.4,0.5,0.6,0.7,0.8,0.9,2,3,4],"tickSize":-3,"labels":false,"title":null}},
"y":{"field":"v2","type":"quantitative","scale":{"type":"log","domain":[0.1,1000],"nice":false},"axis":{"orient":"right","values":[0.2,0.3,0.4,0.5,0.6,0.7,0.8,0.9,2,3,4,5,6,7,8,9,20,30,40,50,60,70,80,90,200,300,400,500,600,700,800,900],"tickSize":-3,"labels":false,"title":null}}}},
{"data":{"name":"arra"},"transform":[{"filter":"datum.dir=='up'"}],"mark":{"type":"point","shape":"M0,0L0.55,1.9L0,1.35L-0.55,1.9Z","filled":true,"color":"#000","opacity":1,"size":630,"angle":23},
"encoding":{"x":{"field":"f2","type":"quantitative","axis":null},"y":{"field":"v2","type":"quantitative","axis":null}}},
{"data":{"name":"ta"},"mark":{"type":"text","font":"Liberation Sans","fontSize":17,"align":"left","baseline":"middle","color":"#000"},
"encoding":{"x":{"field":"f","type":"quantitative","axis":null},"y":{"field":"v","type":"quantitative","axis":null},"text":{"field":"t"}}},
{"data":{"name":"la"},"mark":{"type":"text","font":"Liberation Sans","fontSize":24,"align":"left","baseline":"middle","color":"#000"},
"encoding":{"x":{"field":"f","type":"quantitative","axis":null},"y":{"field":"v","type":"quantitative","axis":null},"text":{"field":"t"}}}
]},
{"width":297,"height":284,
"resolve":{"axis":{"x":"independent","y":"independent"}},
"layer":[
{"data":{"name":"b"},"transform":[{"filter":"datum.m=='Coupled'"}],"mark":{"type":"line","clip":true,"strokeWidth":1.4},
"encoding":{
"x":{"field":"f","type":"quantitative","scale":{"type":"log","domain":[0.001,10],"nice":false},"axis":{"orient":"bottom","values":[0.001,0.01,0.1,1,10],"tickSize":-5,"labelPadding":22,"labelFontSize":16,"labelExpr":"'10' + (datum.value < 0.005 ? '⁻³' : datum.value < 0.05 ? '⁻²' : datum.value < 0.5 ? '⁻¹' : datum.value < 5 ? '⁰' : '¹')","title":"Frequency (Hz)","titleFontSize":17.5,"titlePadding":7}},
"y":{"field":"v","type":"quantitative","scale":{"type":"log","domain":[0.1,1000],"nice":false},"axis":{"orient":"left","values":[0.1,1,10,100,1000],"tickSize":-5,"labelPadding":23,"labelFontSize":16,"labelExpr":"'10' + (datum.value < 0.5 ? '⁻¹' : datum.value < 5 ? '⁰' : datum.value < 50 ? '¹' : datum.value < 500 ? '²' : '³')","title":"nm/Pa","titleFontSize":17.5,"titlePadding":10}},
"detail":{"field":"id","type":"nominal"},
"color":{"field":"c","type":"nominal","scale":{"domain":["Tilt","Vertical","Horizontal"],"range":["#000000","#ff0000","#0000ff"]},"legend":{"orient":"none","legendX":161,"legendY":17,"direction":"vertical","title":null,"symbolType":"M-6.7,0L6.7,0","symbolSize":100,"symbolStrokeWidth":1.5,"labelFontSize":17,"labelFont":"Liberation Sans","labelColor":"#000","labelOffset":35,"rowPadding":9,"padding":0}},
"strokeDash":{"field":"m","type":"nominal","scale":{"domain":["Coupled","Halfspace"],"range":[[1,0],[11,8]]},"legend":{"orient":"none","legendX":161,"legendY":95,"direction":"vertical","values":["Halfspace"],"title":null,"symbolType":"M-6.7,0L6.7,0","symbolSize":100,"symbolStrokeWidth":1.5,"symbolStrokeColor":"#444","labelFontSize":17,"labelFont":"Liberation Sans","labelColor":"#000","labelOffset":35,"padding":0}}
}},
{"data":{"name":"b"},"transform":[{"filter":"datum.m=='Halfspace'"}],"mark":{"type":"line","clip":true,"strokeWidth":2},
"encoding":{
"x":{"field":"f","type":"quantitative","scale":{"type":"log","domain":[0.001,10],"nice":false},"axis":{"orient":"bottom","values":[0.002,0.003,0.004,0.005,0.006,0.007,0.008,0.009,0.02,0.03,0.04,0.05,0.06,0.07,0.08,0.09,0.2,0.3,0.4,0.5,0.6,0.7,0.8,0.9,2,3,4,5,6,7,8,9],"tickSize":-3,"labels":false,"title":null}},
"y":{"field":"v","type":"quantitative","scale":{"type":"log","domain":[0.1,1000],"nice":false},"axis":{"orient":"left","values":[0.2,0.3,0.4,0.5,0.6,0.7,0.8,0.9,2,3,4,5,6,7,8,9,20,30,40,50,60,70,80,90,200,300,400,500,600,700,800,900],"tickSize":-3,"labels":false,"title":null}},
"detail":{"field":"id","type":"nominal"},
"color":{"field":"c","type":"nominal"},
"strokeDash":{"field":"m","type":"nominal"}
}},
{"data":{"name":"arrb"},"mark":{"type":"rule","color":"#000","strokeWidth":1},
"encoding":{
"x":{"field":"f","type":"quantitative","scale":{"type":"log","domain":[0.001,10],"nice":false},"axis":{"orient":"top","values":[0.001,0.01,0.1,1,10],"tickSize":-5,"labels":false,"title":null}},
"y":{"field":"v","type":"quantitative","scale":{"type":"log","domain":[0.1,1000],"nice":false},"axis":{"orient":"right","values":[0.1,1,10,100,1000],"tickSize":-5,"labels":false,"title":null}},
"x2":{"field":"f2"},"y2":{"field":"v2"}}},
{"data":{"name":"arrb"},"transform":[{"filter":"datum.dir=='down'"}],"mark":{"type":"point","shape":"M0,0L0.55,1.9L0,1.35L-0.55,1.9Z","filled":true,"color":"#000","opacity":1,"size":630,"angle":163},
"encoding":{
"x":{"field":"f2","type":"quantitative","scale":{"type":"log","domain":[0.001,10],"nice":false},"axis":{"orient":"top","values":[0.002,0.003,0.004,0.005,0.006,0.007,0.008,0.009,0.02,0.03,0.04,0.05,0.06,0.07,0.08,0.09,0.2,0.3,0.4,0.5,0.6,0.7,0.8,0.9,2,3,4,5,6,7,8,9],"tickSize":-3,"labels":false,"title":null}},
"y":{"field":"v2","type":"quantitative","scale":{"type":"log","domain":[0.1,1000],"nice":false},"axis":{"orient":"right","values":[0.2,0.3,0.4,0.5,0.6,0.7,0.8,0.9,2,3,4,5,6,7,8,9,20,30,40,50,60,70,80,90,200,300,400,500,600,700,800,900],"tickSize":-3,"labels":false,"title":null}}}},
{"data":{"name":"arrb"},"transform":[{"filter":"datum.dir=='up'"}],"mark":{"type":"point","shape":"M0,0L0.55,1.9L0,1.35L-0.55,1.9Z","filled":true,"color":"#000","opacity":1,"size":630,"angle":15},
"encoding":{"x":{"field":"f2","type":"quantitative","axis":null},"y":{"field":"v2","type":"quantitative","axis":null}}},
{"data":{"name":"tb"},"mark":{"type":"text","font":"Liberation Sans","fontSize":17,"align":"left","baseline":"middle","color":"#000"},
"encoding":{"x":{"field":"f","type":"quantitative","axis":null},"y":{"field":"v","type":"quantitative","axis":null},"text":{"field":"t"}}},
{"data":{"name":"lb"},"mark":{"type":"text","font":"Liberation Sans","fontSize":24,"align":"left","baseline":"middle","color":"#000"},
"encoding":{"x":{"field":"f","type":"quantitative","axis":null},"y":{"field":"v","type":"quantitative","axis":null},"text":{"field":"t"}}}
]}
]
}
